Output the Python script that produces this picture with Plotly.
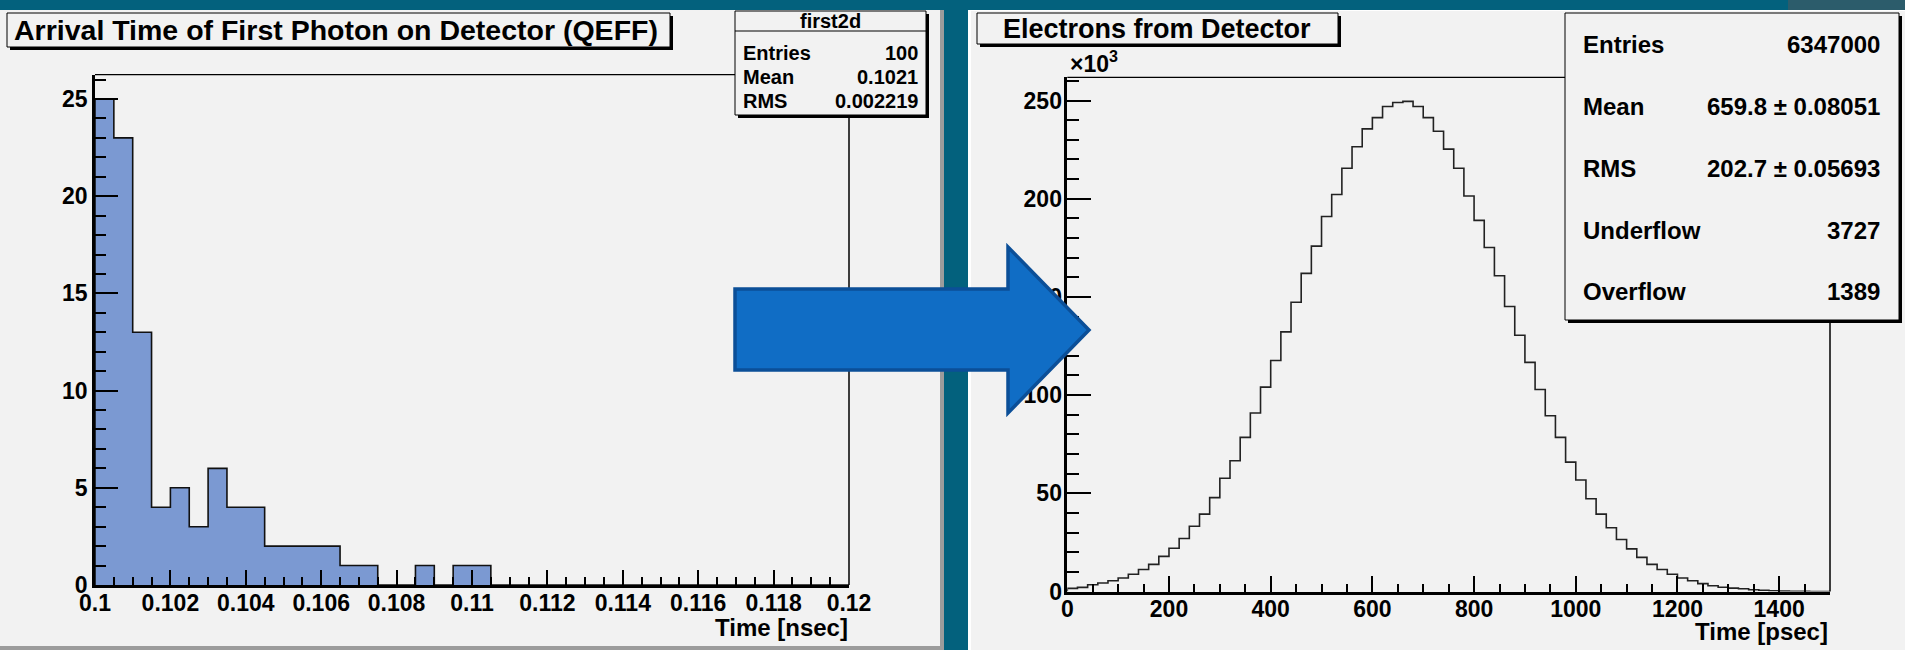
import plotly.graph_objects as go

W, H = 1905, 650

# ---------------- data ----------------
left_bin_start = 0.1
left_bin_width = 0.0005
left_counts = [25, 23, 13, 4, 5, 3, 6, 4, 4, 2,
               2, 2, 2, 1, 1, 0, 0, 1, 0, 1,
               1, 0, 0, 0, 0, 0, 0, 0, 0, 0,
               0, 0, 0, 0, 0, 0, 0, 0, 0, 0]
left_xtick_vals = [0.1, 0.102, 0.104, 0.106, 0.108, 0.11, 0.112, 0.114, 0.116, 0.118, 0.12]
left_xtick_text = ["0.1", "0.102", "0.104", "0.106", "0.108", "0.11", "0.112", "0.114", "0.116", "0.118", "0.12"]
left_stats_labels = ["Entries", "Mean", "RMS"]
left_stats_values = ["100", "0.1021", "0.002219"]

right_bin_start = 0
right_bin_width = 20
# counts in units of 10^3
right_counts = [1.6, 2.1, 3.4, 4.3, 5.5, 6.9, 8.8, 11.2, 13.8, 17.9,
                22.0, 27.0, 33.2, 39.4, 47.8, 57.7, 66.6, 78.5, 90.9, 104.1,
                117.6, 132.2, 147.3, 162.0, 175.9, 191.0, 202.2, 215.5, 226.5, 235.6,
                241.3, 247.0, 249.0, 249.6, 247.0, 241.3, 234.4, 225.3, 215.5, 201.4,
                189.0, 175.2, 160.8, 145.1, 130.5, 116.7, 102.9, 89.5, 78.5, 65.9,
                56.8, 47.2, 39.4, 32.5, 26.5, 21.7, 17.4, 13.8, 11.2, 8.8,
                6.9, 5.5, 4.0, 2.9, 2.2, 1.7, 1.4, 0.9, 0.6, 0.4,
                0.2, 0.1, 0.1, 0.0, 0.0]
right_stats_labels = ["Entries", "Mean", "RMS", "Underflow", "Overflow"]
right_stats_values = ["6347000", "659.8 \u00b1 0.08051", "202.7 \u00b1 0.05693", "3727", "1389"]

left_title = "Arrival Time of First Photon on Detector (QEFF)"
right_title = "Electrons from Detector"
left_xlabel = "Time [nsec]"
right_xlabel = "Time [psec]"

# ---------------- styles ----------------
TEAL = "#03617D"
PANEL = "#F2F2F2"
SANS = "Liberation Sans, Arial, Helvetica, sans-serif"


def px(x):
    return x / W


def py(y):
    return 1 - y / H


def step_xy(start, width, counts):
    edges = [start + i * width for i in range(len(counts) + 1)]
    xs = [edges[0]] + edges[:-1] + [edges[-1], edges[-1]]
    ys = [0] + list(counts) + [counts[-1], 0]
    return xs, ys


fig = go.Figure()

lx, ly = step_xy(left_bin_start, left_bin_width, left_counts)
fig.add_trace(go.Scatter(x=lx, y=ly, mode="lines", line=dict(shape="hv", color="#111111", width=1.6),
                         fill="tozeroy", fillcolor="#7B99D2", xaxis="x", yaxis="y",
                         hoverinfo="skip", showlegend=False))

rx, ry = step_xy(right_bin_start, right_bin_width, right_counts)
fig.add_trace(go.Scatter(x=rx, y=ry, mode="lines", line=dict(shape="hv", color="#222222", width=1.6),
                         xaxis="x2", yaxis="y2", hoverinfo="skip", showlegend=False))

L_DOM_X = [px(95), px(849)]
L_DOM_Y = [py(585), py(74.7)]
R_DOM_X = [px(1067.3), px(1830)]
R_DOM_Y = [py(591.5), py(77.4)]

tickfont = dict(family=SANS, size=23, color="black", weight="bold")
common = dict(showline=True, linecolor="black", linewidth=2.5, showgrid=False, zeroline=False,
              tickfont=tickfont, automargin=False, tickcolor="black", tickwidth=1.5, ticks="inside")

fig.update_layout(
    template="none",
    width=W, height=H, autosize=False,
    margin=dict(l=0, r=0, t=0, b=0, pad=0, autoexpand=False),
    paper_bgcolor=TEAL,
    plot_bgcolor="rgba(0,0,0,0)",
    showlegend=False,
    xaxis=dict(domain=L_DOM_X, range=[0.1, 0.12], anchor="y",
               tickmode="array", tickvals=left_xtick_vals, ticktext=left_xtick_text, ticklen=15,
               minor=dict(tickmode="linear", tick0=0.1, dtick=0.0005, ticks="inside", ticklen=8,
                          tickwidth=1.5, tickcolor="black"),
               ticklabelstandoff=-4, **common),
    yaxis=dict(domain=L_DOM_Y, range=[0, 26.25], anchor="x",
               tickmode="linear", tick0=0, dtick=5, ticklen=23,
               minor=dict(tickmode="linear", tick0=0, dtick=1, ticks="inside", ticklen=11,
                          tickwidth=1.5, tickcolor="black"),
               ticklabelstandoff=0, **common),
    xaxis2=dict(domain=R_DOM_X, range=[0, 1500], anchor="y2",
                tickmode="linear", tick0=0, dtick=200, ticklen=16,
                minor=dict(tickmode="linear", tick0=0, dtick=50, ticks="inside", ticklen=8,
                           tickwidth=1.5, tickcolor="black"),
                ticklabelstandoff=-5, **common),
    yaxis2=dict(domain=R_DOM_Y, range=[0, 261.8], anchor="x2",
                tickmode="linear", tick0=0, dtick=50, ticklen=24,
                minor=dict(tickmode="linear", tick0=0, dtick=10, ticks="inside", ticklen=12,
                           tickwidth=1.5, tickcolor="black"),
                ticklabelstandoff=-2, **common),
)

shapes = []
# panels
shapes.append(dict(type="rect", xref="paper", yref="paper", x0=px(1788), x1=1, y0=py(10), y1=1,
                   fillcolor="#2C5C6B", line=dict(width=0), layer="below"))
shapes.append(dict(type="rect", xref="paper", yref="paper", x0=0, x1=px(944), y0=0, y1=py(10),
                   fillcolor="#9C9C9C", line=dict(width=0), layer="below"))
shapes.append(dict(type="rect", xref="paper", yref="paper", x0=0, x1=px(940), y0=py(646), y1=py(10),
                   fillcolor=PANEL, line=dict(width=0), layer="below"))
shapes.append(dict(type="rect", xref="paper", yref="paper", x0=px(968), x1=1, y0=0, y1=py(10),
                   fillcolor="#FFFFFF", line=dict(width=0), layer="below"))
shapes.append(dict(type="rect", xref="paper", yref="paper", x0=px(971), x1=1, y0=0, y1=py(11),
                   fillcolor=PANEL, line=dict(width=0), layer="below"))

# frame top/right lines
for xa, ya in (("x", "y"), ("x2", "y2")):
    shapes.append(dict(type="line", xref=f"{xa} domain", yref=f"{ya} domain", x0=0, x1=1, y0=1, y1=1,
                       line=dict(color="black", width=1.2), layer="above"))
    shapes.append(dict(type="line", xref=f"{xa} domain", yref=f"{ya} domain", x0=1, x1=1, y0=0, y1=1,
                       line=dict(color="black", width=1.5), layer="above"))


def box(x0, y0, x1, y1, shadow=3):
    shapes.append(dict(type="rect", xref="paper", yref="paper", x0=px(x0 + shadow), x1=px(x1 + shadow),
                       y0=py(y1 + shadow), y1=py(y0 + shadow), fillcolor="black",
                       line=dict(width=0), layer="above"))
    shapes.append(dict(type="rect", xref="paper", yref="paper", x0=px(x0), x1=px(x1),
                       y0=py(y1), y1=py(y0), fillcolor=PANEL,
                       line=dict(color="black", width=1), layer="above"))


# title boxes
box(7, 13, 670, 47)
box(977, 13, 1338, 44)
# stats boxes
box(735, 11, 926, 115)
shapes.append(dict(type="line", xref="paper", yref="paper", x0=px(735), x1=px(926), y0=py(31), y1=py(31),
                   line=dict(color="black", width=1), layer="above"))
box(1565, 13, 1899, 320)

# arrow
ax = [735, 1008, 1008, 1089, 1008, 1008, 735]
ay = [289, 289, 247, 330, 413, 370, 370]
path = "M " + " L ".join(f"{px(a):.6f},{py(b):.6f}" for a, b in zip(ax, ay)) + " Z"
shapes.append(dict(type="path", xref="paper", yref="paper", path=path, fillcolor="#106DC5",
                   line=dict(color="#0B4F98", width=3.5), layer="above"))

fig.update_layout(shapes=shapes)

ann = []


def text(x, y, s, size, xanchor="center", weight="bold"):
    ann.append(dict(x=px(x), y=py(y), xref="paper", yref="paper", text=s, showarrow=False,
                    xanchor=xanchor, yanchor="middle",
                    font=dict(family=SANS, size=size, color="black", weight=weight)))


text(336, 30, left_title, 28.5)
text(1157, 29, right_title, 27)
text(850, 627, left_xlabel, 24, xanchor="right")
text(1830, 631, right_xlabel, 24, xanchor="right")
text(1068, 62, "\u00d710<sup>3</sup>", 23, xanchor="left")

text(830, 21, "first2d", 20)
for i, (lab, val) in enumerate(zip(left_stats_labels, left_stats_values)):
    yy = 53 + 24 * i
    text(741, yy, lab, 20, xanchor="left")
    text(920, yy, val, 20, xanchor="right")

for i, (lab, val) in enumerate(zip(right_stats_labels, right_stats_values)):
    yy = 45 + 61.7 * i
    text(1581, yy, lab, 24, xanchor="left")
    text(1882, yy, val, 24, xanchor="right")

fig.update_layout(annotations=ann)

fig.write_html("out.html")
